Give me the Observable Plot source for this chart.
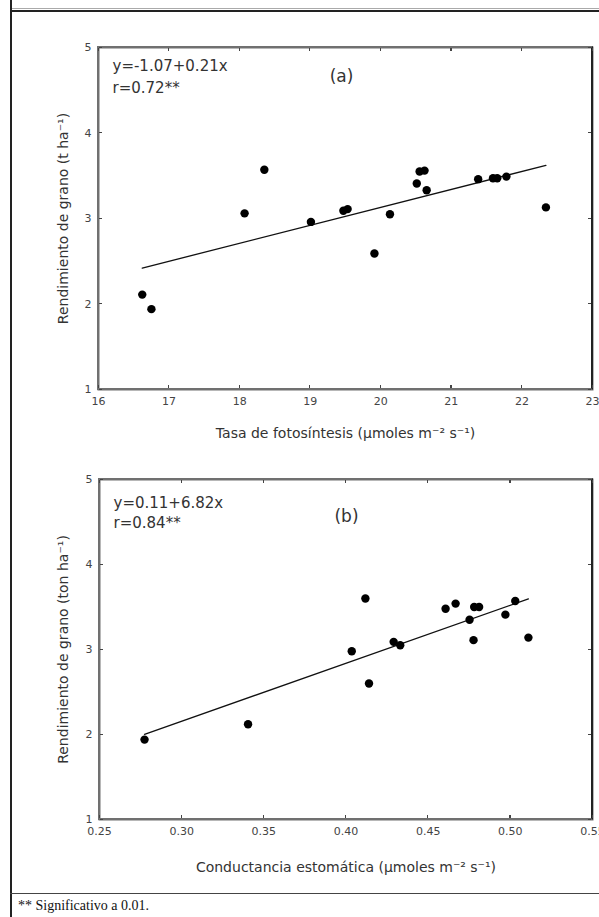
<!DOCTYPE html>
<html>
<head>
<meta charset="utf-8">
<script src="https://cdn.jsdelivr.net/npm/d3@7"></script>
<script src="https://cdn.jsdelivr.net/npm/@observablehq/plot@0.6"></script>
<style>
  html, body { margin: 0; padding: 0; background: #fff; }
  body { width: 599px; height: 917px; position: relative; overflow: hidden; }
  #leftline { position: absolute; left: 10px; top: 0; width: 2px; height: 917px; background: #222; }
  #topgray { position: absolute; left: 12px; top: 8px; width: 587px; height: 1px; background: #aaa; }
  #topline { position: absolute; left: 10px; top: 10px; width: 589px; height: 2px; background: #222; }
  #botline { position: absolute; left: 10px; top: 893px; width: 589px; height: 1px; background: #444; }
  #foot { position: absolute; left: 18px; top: 898px; font: 14px "Liberation Serif", "DejaVu Serif", serif; color: #111; white-space: nowrap; }
  #pa { position: absolute; left: 14px; top: 14px; }
  #pb { position: absolute; left: 14px; top: 455px; }
  .fr { position: absolute; box-sizing: border-box; border-left: 2px solid #707070; border-top: 2px solid #707070; border-bottom: 2px solid #707070; border-right: 2px solid #222; pointer-events: none; z-index: 5; }
  .tk { position: absolute; background: #444; z-index: 6; }
</style>
</head>
<body>
<div id="leftline"></div>
<div id="topgray"></div>
<div id="topline"></div>
<div id="pa"></div>
<div id="pb"></div>
<div id="botline"></div>
<div id="foot">** Significativo a 0.01.</div>
<script>
// ---- Data ----
// Panel (a): photosynthesis rate vs grain yield
const photoRate = [16.62, 16.75, 18.07, 18.35, 19.01, 19.47, 19.53, 19.91, 20.13, 20.51, 20.55, 20.62, 20.65, 21.38, 21.59, 21.65, 21.78, 22.34];
const yieldA    = [2.11, 1.94, 3.06, 3.57, 2.96, 3.09, 3.11, 2.59, 3.05, 3.41, 3.55, 3.56, 3.33, 3.46, 3.47, 3.47, 3.49, 3.13];
const fitA = {a: -1.07, b: 0.21};
const eqA = "y=-1.07+0.21x";
const rA = "r=0.72**";
const xTicksA = [16, 17, 18, 19, 20, 21, 22, 23];

// Panel (b): stomatal conductance vs grain yield
const conductance = [0.2774, 0.3404, 0.4035, 0.4118, 0.4140, 0.4290, 0.4330, 0.4606, 0.4667, 0.4752, 0.4776, 0.4780, 0.4810, 0.4970, 0.5030, 0.5110];
const yieldB      = [1.94, 2.12, 2.98, 3.60, 2.60, 3.09, 3.05, 3.48, 3.54, 3.35, 3.11, 3.50, 3.50, 3.41, 3.57, 3.14];
const fitB = {a: 0.11, b: 6.82};
const eqB = "y=0.11+6.82x";
const rB = "r=0.84**";
const xTicksB = [0.25, 0.30, 0.35, 0.40, 0.45, 0.50, 0.55];

const yTicks = [1, 2, 3, 4, 5];

function panel({xs, ys, fit, eq, r, tag, xTicks, xDomain, xFmt, xLabel, yLabel, width, height, mTop, mBottom, mLeft, mRight, eqDy, tagDx, tagDy, xLabDy, yLabDx}) {
  const pts = xs.map((x, i) => ({x, y: ys[i]}));
  const ext = d3.extent(xs);
  const fitLine = ext.map(x => ({x, y: fit.a + fit.b * x}));
  const font = "DejaVu Sans, Liberation Sans, sans-serif";
  const [y0, y1] = [yTicks[0], yTicks[yTicks.length - 1]];
  return Plot.plot({
    width, height,
    marginTop: mTop, marginBottom: mBottom, marginLeft: mLeft, marginRight: mRight,
    style: {background: "transparent", fontFamily: font},
    x: {domain: xDomain},
    y: {domain: [y0, y1]},
    marks: [
      Plot.frame({stroke: "#707070", strokeWidth: 2}),
      Plot.axisX({ticks: xTicks, tickFormat: xFmt, tickSize: 0, tickPadding: 8, label: null, fontSize: 11, color: "#444"}),
      Plot.axisY({ticks: yTicks, tickFormat: d3.format("d"), tickSize: 0, tickPadding: 7, label: null, fontSize: 11, color: "#444"}),
      Plot.line(fitLine, {x: "x", y: "y", stroke: "#111", strokeWidth: 1.3}),
      Plot.dot(pts, {x: "x", y: "y", r: 4.2, fill: "#000", stroke: "none"}),
      Plot.text([eq], {frameAnchor: "top-left", dx: 14, dy: eqDy[0], text: d => d, textAnchor: "start", lineAnchor: "middle", fontSize: 15, fill: "#333"}),
      Plot.text([r], {frameAnchor: "top-left", dx: 14, dy: eqDy[1], text: d => d, textAnchor: "start", lineAnchor: "middle", fontSize: 15, fill: "#333"}),
      Plot.text([tag], {frameAnchor: "top-left", dx: tagDx, dy: tagDy, text: d => d, textAnchor: "middle", lineAnchor: "middle", fontSize: 17, fill: "#333"}),
      Plot.text([xLabel], {frameAnchor: "bottom", dy: xLabDy, text: d => d, textAnchor: "middle", lineAnchor: "middle", fontSize: 14, fill: "#333"}),
      Plot.text([yLabel], {frameAnchor: "left", dx: yLabDx, text: d => d, rotate: -90, textAnchor: "middle", lineAnchor: "middle", fontSize: 14, fill: "#333"})
    ]
  });
}

// Frame box and small inward ticks, placed through the plot's own scales
function decorate(host, chart, xTicks) {
  const sx = chart.scale("x"), sy = chart.scale("y");
  const L = sx.apply(sx.domain[0]), R = sx.apply(sx.domain[1]);
  const T = sy.apply(sy.domain[1]), B = sy.apply(sy.domain[0]);
  const fr = document.createElement("div");
  fr.className = "fr";
  Object.assign(fr.style, {left: (L - 1) + "px", top: (T - 1) + "px", width: (R - L + 2) + "px", height: (B - T + 2) + "px"});
  host.append(fr);
  const tick = (x, y, w, h) => {
    const d = document.createElement("div");
    d.className = "tk";
    Object.assign(d.style, {left: x + "px", top: y + "px", width: w + "px", height: h + "px"});
    host.append(d);
  };
  xTicks.forEach(v => {
    const px = sx.apply(v) - 0.5;
    tick(px, B - 4, 1.2, 3);
    tick(px, T + 1, 1.2, 3);
  });
  yTicks.forEach(v => {
    const py = sy.apply(v) - 0.5;
    tick(L + 1, py, 3, 1.2);
    tick(R - 4, py, 3, 1.2);
  });
}

const hostA = document.getElementById("pa");
const chartA = panel({
  xs: photoRate, ys: yieldA, fit: fitA, eq: eqA, r: rA, tag: "(a)",
  xTicks: xTicksA, xDomain: [16, 23], xFmt: d3.format("d"),
  xLabel: "Tasa de fotosíntesis (µmoles m⁻² s⁻¹)",
  yLabel: "Rendimiento de grano (t ha⁻¹)",
  width: 585, height: 441, mTop: 33, mBottom: 66, mLeft: 84, mRight: 7,
  eqDy: [19, 41], tagDx: 243, tagDy: 29, xLabDy: 44, yLabDx: -35
});
hostA.append(chartA);
decorate(hostA, chartA, xTicksA);

const hostB = document.getElementById("pb");
const chartB = panel({
  xs: conductance, ys: yieldB, fit: fitB, eq: eqB, r: rB, tag: "(b)",
  xTicks: xTicksB, xDomain: [0.25, 0.55], xFmt: d3.format(".2f"),
  xLabel: "Conductancia estomática (µmoles m⁻² s⁻¹)",
  yLabel: "Rendimiento de grano (ton ha⁻¹)",
  width: 585, height: 435, mTop: 24, mBottom: 71, mLeft: 85, mRight: 7,
  eqDy: [24, 44], tagDx: 247, tagDy: 37, xLabDy: 48, yLabDx: -36
});
hostB.append(chartB);
decorate(hostB, chartB, xTicksB);
</script>
</body>
</html>
